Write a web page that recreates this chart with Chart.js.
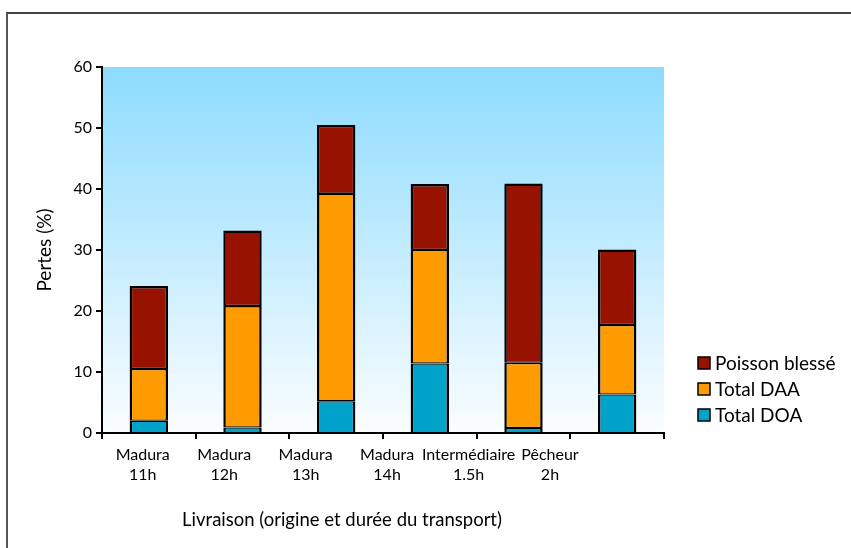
<!DOCTYPE html>
<html>
<head>
<meta charset="utf-8">
<script src="https://cdn.jsdelivr.net/npm/chart.js@4/dist/chart.umd.min.js"></script>
<style>
  body { margin: 0; background: #fff; }
  #wrap { position: relative; width: 851px; height: 548px; overflow: hidden; }
  #frame { position: absolute; left: 6px; top: 12px; width: 900px; height: 600px;
           border-left: 2px solid #555; border-top: 2px solid #444; }
  #chart { position: absolute; left: 0; top: 0; }
</style>
</head>
<body>
<div id="wrap">
  <div id="frame"></div>
  <canvas id="chart" width="851" height="548"></canvas>
</div>
<script>
// Pertes par type de livraison
const categories = [
  ["Madura", "11h"],
  ["Madura", "12h"],
  ["Madura", "13h"],
  ["Madura", "14h"],
  ["Intermédiaire", "1.5h"],
  ["Pêcheur", "2h"]
];
const totalDOA = [2.0, 0.9, 5.2, 11.4, 0.8, 6.3];
const totalDAA = [8.5, 19.9, 34.0, 18.6, 10.7, 11.4];
const poissonBlesse = [13.6, 12.4, 11.3, 10.8, 29.4, 12.4];
const yTicks = [0, 10, 20, 30, 40, 50, 60];

const FONT = "Lato, 'DejaVu Sans', sans-serif";

// sky gradient behind the bars
const skyBackground = {
  id: "skyBackground",
  beforeDraw(chart) {
    const { ctx, chartArea: a } = chart;
    const g = ctx.createLinearGradient(0, a.top, 0, a.bottom);
    g.addColorStop(0, "#8cdbfd");
    g.addColorStop(1, "#fbfdff");
    ctx.save();
    ctx.fillStyle = g;
    ctx.fillRect(a.left, a.top, a.right - a.left, a.bottom - a.top);
    ctx.restore();
  }
};

// x title + legend on the right
const extras = {
  id: "extras",
  afterDraw(chart) {
    const ctx = chart.ctx;
    ctx.save();
    ctx.fillStyle = "#000";
    ctx.font = "18.5px " + FONT;
    ctx.textAlign = "center";
    ctx.textBaseline = "middle";
    ctx.fillText("Livraison (origine et durée du transport)", 342, 520);

    const sets = chart.data.datasets.slice().reverse();
    ctx.font = "19px " + FONT;
    ctx.textAlign = "left";
    sets.forEach((ds, i) => {
      const y = 363 + i * 26;
      ctx.fillStyle = ds.backgroundColor;
      ctx.fillRect(698, y - 6, 12, 12);
      ctx.strokeStyle = "#000";
      ctx.lineWidth = 1.5;
      ctx.strokeRect(698, y - 6, 12, 12);
      ctx.fillStyle = "#000";
      ctx.fillText(ds.label, 715, y + 1);
    });
    ctx.restore();
  }
};

const barStyle = { borderColor: "#000", borderSkipped: false, inflateAmount: 0,
                   categoryPercentage: 1, barPercentage: 0.41 };

new Chart(document.getElementById("chart"), {
  type: "bar",
  data: {
    labels: categories,
    datasets: [
      { label: "Total DOA", data: totalDOA, backgroundColor: "#01a2c9",
        borderWidth: { left: 2.5, right: 2.5, top: 1.3, bottom: 0 }, ...barStyle },
      { label: "Total DAA", data: totalDAA, backgroundColor: "#fd9b00",
        borderWidth: { left: 2.5, right: 2.5, top: 1.3, bottom: 1.3 }, ...barStyle },
      { label: "Poisson blessé", data: poissonBlesse, backgroundColor: "#981200",
        borderWidth: { left: 2.5, right: 2.5, top: 2.5, bottom: 1.3 }, ...barStyle }
    ]
  },
  options: {
    responsive: false,
    animation: false,
    layout: { padding: { left: 0, right: 187, top: 67, bottom: 0 } },
    plugins: { legend: { display: false }, tooltip: { enabled: false } },
    scales: {
      x: {
        stacked: true,
        weight: 0,
        ticks: { display: false },
        grid: { offset: true, drawOnChartArea: false, tickLength: 6, color: "#000", lineWidth: 2 },
        border: { color: "#000", width: 2 },
        afterFit: s => { s.height = 6; }
      },
      xl: {
        type: "linear",
        position: "bottom",
        weight: 1,
        offset: false,
        min: -0.5,
        max: 6.4,
        afterBuildTicks: s => { s.ticks = categories.map((_, i) => ({ value: i })); },
        ticks: {
          autoSkip: false, maxRotation: 0, padding: 5,
          color: "#000", font: { family: FONT, size: 16, lineHeight: 1.3 },
          callback: v => categories[v]
        },
        grid: { display: false, drawTicks: false, offset: false },
        border: { display: false },
        afterFit: s => { s.height = 109; }
      },
      y: {
        stacked: true,
        min: 0,
        max: 60,
        afterBuildTicks: s => { s.ticks = yTicks.map(v => ({ value: v })); },
        ticks: { color: "#000", padding: 4, font: { family: FONT, size: 16 } },
        grid: { drawOnChartArea: false, tickLength: 6, color: "#000", lineWidth: 2 },
        border: { color: "#000", width: 2 },
        title: { display: true, text: "Pertes (%)", color: "#000",
                 font: { family: FONT, size: 19 }, padding: { top: 33, bottom: 0 } },
        afterFit: s => { s.width = 102; }
      }
    }
  },
  plugins: [skyBackground, extras]
});
</script>
</body>
</html>
